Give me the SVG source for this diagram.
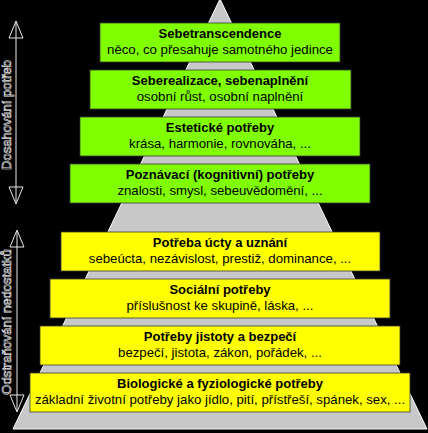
<svg xmlns="http://www.w3.org/2000/svg" width="428" height="433" viewBox="0 0 428 433">
<defs>
<style>
.g{fill:#80ff00;stroke:#3a3a3a;stroke-width:0.8}
.y{fill:#ffff00;stroke:#3a3a3a;stroke-width:0.8}
.t{font-family:"Liberation Sans",Arial,sans-serif;font-size:13px;font-weight:bold;fill:#000;text-anchor:middle}
.s{font-family:"Liberation Sans",Arial,sans-serif;font-size:13.2px;fill:#000;text-anchor:middle}
.v{font-family:"Liberation Sans",Arial,sans-serif;font-size:13px;fill:#000;stroke:#e8e8e8;stroke-width:0.6;text-anchor:middle}
.ar{fill:none;stroke:#e8e8e8;stroke-width:1}
</style>
</defs>
<rect x="0" y="0" width="428" height="433" fill="#000"/>
<g id="pyramid">
<polygon points="220,-1 13,429 427,429" fill="#c8c8c8" stroke="#ffffff" stroke-width="1"/>
</g>
<g id="connectors">
<g id="arrow-dosahovani">
<line class="ar" x1="16" y1="22" x2="16" y2="203"/>
<polyline class="ar" points="9,38 16,21 23,38 9,38"/>
<polyline class="ar" points="9,187 16,204 23,187 9,187"/>
</g>
<g id="arrow-odstranovani">
<line class="ar" x1="17" y1="231" x2="17" y2="411"/>
<polyline class="ar" points="10,247 17,230 24,247 10,247"/>
<polyline class="ar" points="10,395 17,412 24,395 10,395"/>
</g>
</g>
<text class="v" transform="translate(11,115) rotate(-90)">Dosahování potřeb</text>
<text class="v" transform="translate(11,322) rotate(-90)">Odstraňování nedostatků</text>
<g id="n1"><rect class="g" x="100" y="23" width="240" height="39"/>
<text class="t" x="220" y="38">Sebetranscendence</text>
<text class="s" x="220" y="54">něco, co přesahuje samotného jedince</text></g>
<g id="n2"><rect class="g" x="90" y="70" width="261" height="39"/>
<text class="t" x="220" y="85">Seberealizace, sebenaplnění</text>
<text class="s" x="220" y="101">osobní růst, osobní naplnění</text></g>
<g id="n3"><rect class="g" x="80" y="117" width="280" height="39"/>
<text class="t" x="220" y="132">Estetické potřeby</text>
<text class="s" x="220" y="148">krása, harmonie, rovnováha, ...</text></g>
<g id="n4"><rect class="g" x="70" y="164" width="300" height="39"/>
<text class="t" x="220" y="179">Poznávací (kognitivní) potřeby</text>
<text class="s" x="220" y="195">znalosti, smysl, sebeuvědomění, ...</text></g>
<g id="n5"><rect class="y" x="61" y="232" width="319" height="39"/>
<text class="t" x="220" y="247">Potřeba úcty a uznání</text>
<text class="s" x="220" y="263">sebeúcta, nezávislost, prestiž, dominance, ...</text></g>
<g id="n6"><rect class="y" x="50" y="279" width="340" height="39"/>
<text class="t" x="220" y="294">Sociální potřeby</text>
<text class="s" x="220" y="310">příslušnost ke skupině, láska, ...</text></g>
<g id="n7"><rect class="y" x="40" y="326" width="360" height="39"/>
<text class="t" x="220" y="341">Potřeby jistoty a bezpečí</text>
<text class="s" x="220" y="357">bezpečí, jistota, zákon, pořádek, ...</text></g>
<g id="n8"><rect class="y" x="30" y="373" width="380" height="39"/>
<text class="t" x="220" y="388">Biologické a fyziologické potřeby</text>
<text class="s" x="220" y="404">základní životní potřeby jako jídlo, pití, přístřeší, spánek, sex, ...</text></g>
</svg>
